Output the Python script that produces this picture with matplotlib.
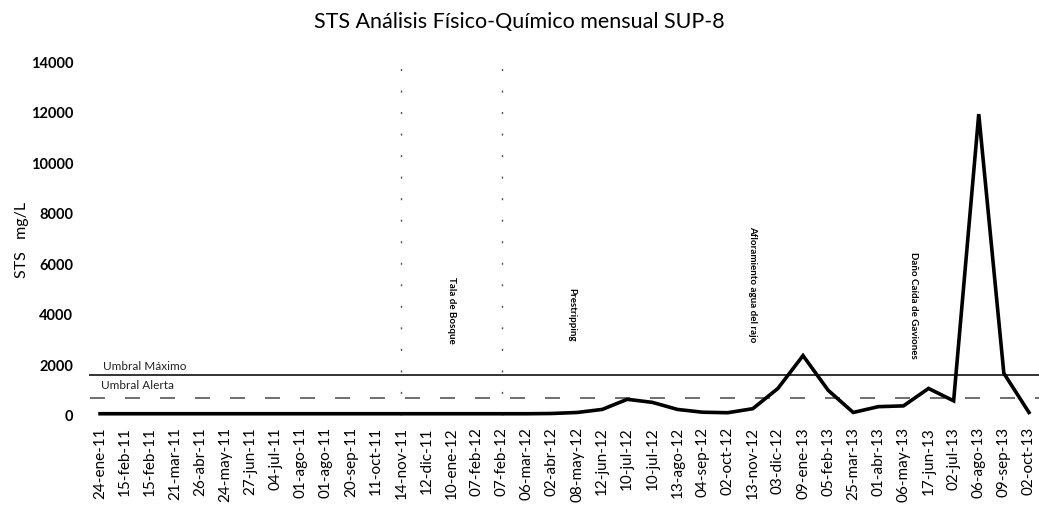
import matplotlib
matplotlib.use("Agg")
import matplotlib.pyplot as plt
import numpy as np

plt.rcParams['font.family'] = ['Lato', 'DejaVu Sans']

fechas = ["24-ene-11", "15-feb-11", "15-feb-11", "21-mar-11", "26-abr-11", "24-may-11",
          "27-jun-11", "04-jul-11", "01-ago-11", "01-ago-11", "20-sep-11", "11-oct-11",
          "14-nov-11", "12-dic-11", "10-ene-12", "07-feb-12", "07-feb-12", "06-mar-12",
          "02-abr-12", "08-may-12", "12-jun-12", "10-jul-12", "10-jul-12", "13-ago-12",
          "04-sep-12", "02-oct-12", "13-nov-12", "03-dic-12", "09-ene-13", "05-feb-13",
          "25-mar-13", "01-abr-13", "06-may-13", "17-jun-13", "02-jul-13", "06-ago-13",
          "09-sep-13", "02-oct-13"]

sts = [50, 50, 50, 50, 50, 50, 50, 50, 50, 50, 50, 50,
       50, 50, 50, 50, 50, 50, 60, 100, 220, 620, 500, 220,
       110, 90, 250, 1050, 2350, 980, 100, 330, 360, 1050, 560, 11900,
       1650, 100]

umbral_maximo = 1600
umbral_alerta = 660

eventos = ["Tala de Bosque", "Prestripping", "Afloramiento agua del rajo", "Daño Caída de Gaviones"]
eventos_pos = [14, 18.8, 26, 32.4]
eventos_y = [2850, 2950, 2900, 2250]

y_ticks = [0, 2000, 4000, 6000, 8000, 10000, 12000, 14000]

fig = plt.figure(figsize=(10.39, 5.06), dpi=100)
ax = fig.add_axes([90/1039, (506-416)/506, 949/1039, (416-62)/506])

x = np.arange(len(fechas))
n = len(fechas)

ax.plot([-0.4, n - 0.6], [umbral_maximo]*2, color="#333333", lw=1.4, clip_on=False)
ax.plot([-0.4, n - 0.6], [umbral_alerta]*2, color="#555555", lw=1.2,
        dashes=(9, 12), clip_on=False)

# faint vertical event markers (sparse dots, as in the scan)
for xv in [12, 16]:
    ax.plot([xv, xv], [0, 14000], color="#555555", lw=1, ls=(0, (1.5, 14)), clip_on=False)

ax.plot(x, sts, color="black", lw=2.6, solid_joinstyle="miter", clip_on=False)

ax.text(0.1, umbral_maximo + 130, "Umbral Máximo", fontsize=8.5, color="#222222",
        ha="left", va="bottom")
ax.text(0.05, umbral_alerta + 330, "Umbral Alerta", fontsize=8.5, color="#222222",
        ha="left", va="bottom")

for lab, xp, yp in zip(eventos, eventos_pos, eventos_y):
    ax.text(xp, yp, lab, rotation=-90, fontsize=7, fontweight="bold",
            ha="center", va="bottom", color="black")

ax.set_xlim(-0.4, n - 0.6)
ax.set_ylim(0, 14000)
ax.set_xticks(x)
ax.set_xticklabels(fechas, rotation=90, fontsize=11)
ax.set_yticks(y_ticks)
ax.set_yticklabels([str(v) for v in y_ticks], fontsize=10.5, fontweight="bold")
ax.tick_params(axis="y", length=0, pad=12)
ax.tick_params(axis="x", length=0, pad=8)
for s in ax.spines.values():
    s.set_visible(False)

fig.text(22/1039, 1 - 240/506, "STS   mg/L", rotation=90, ha="center", va="center",
         fontsize=11.5)
fig.text(0.5, 1 - 22/506, "STS Análisis Físico-Químico mensual SUP-8", ha="center",
         va="center", fontsize=15.5)

fig.savefig("out.png", dpi=100)
